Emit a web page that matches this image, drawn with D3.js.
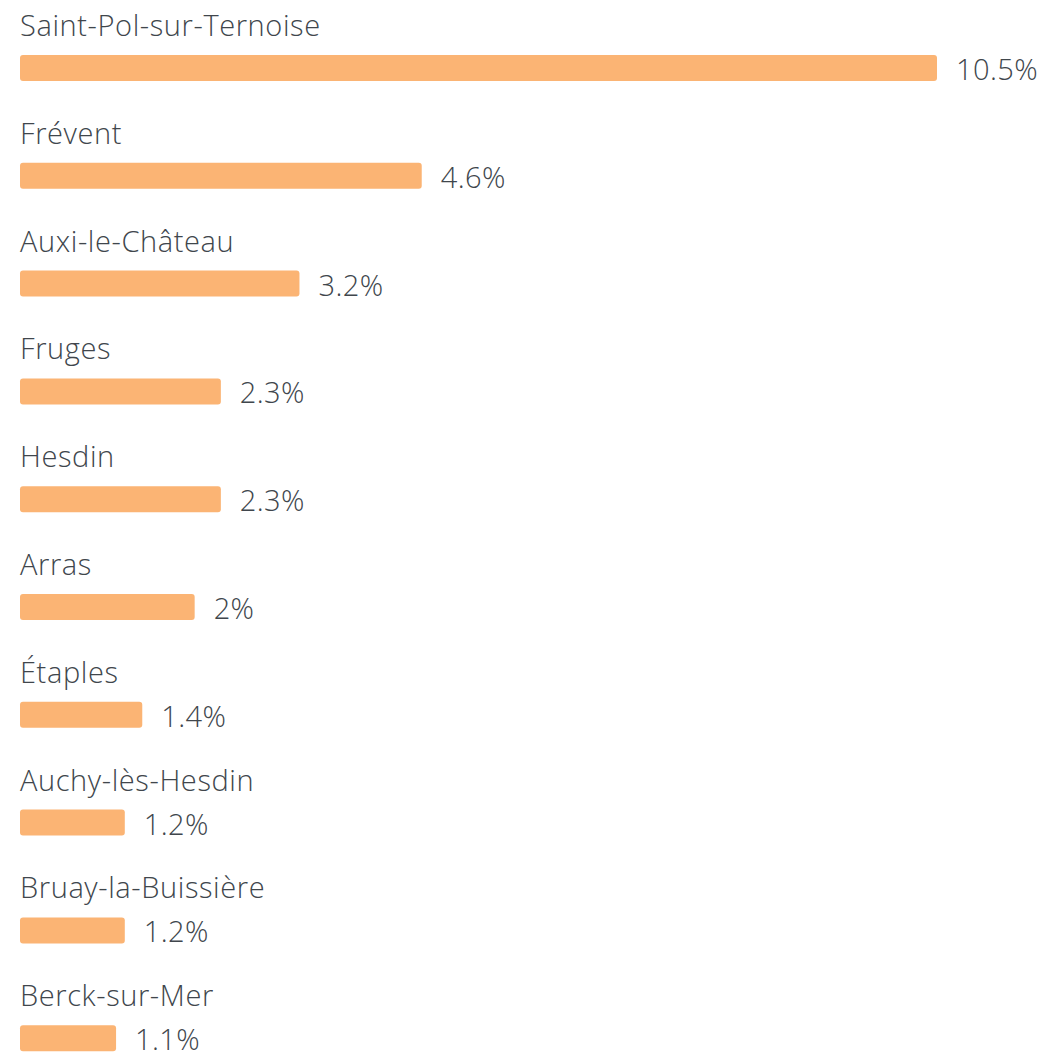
<!DOCTYPE html>
<html>
<head>
<meta charset="utf-8">
<script src="https://cdn.jsdelivr.net/npm/d3@7"></script>
<style>
  body { margin: 0; background: #fff; }
</style>
</head>
<body>
<div id="chart"></div>
<script>
// communes and share of ... (in %)
var communes = ["Saint-Pol-sur-Ternoise", "Frévent", "Auxi-le-Château", "Fruges", "Hesdin",
    "Arras", "Étaples", "Auchy-lès-Hesdin", "Bruay-la-Buissière", "Berck-sur-Mer"];
var values = [10.5, 4.6, 3.2, 2.3, 2.3, 2, 1.4, 1.2, 1.2, 1.1];
var valueLabels = ["10.5%", "4.6%", "3.2%", "2.3%", "2.3%", "2%", "1.4%", "1.2%", "1.2%", "1.1%"];

var width = 1045;
var height = 1054;
var margin = {top: 55, left: 20};
var barHeight = 26;

var data = communes.map(function(c, i) {
    return {name: c, value: values[i], label: valueLabels[i]};
});

var x = d3.scaleLinear()
    .domain([0, 10.5])
    .range([0, 917]);

var y = d3.scaleBand()
    .domain(communes)
    .range([0, 1078]);

var svg = d3.select("#chart").append("svg")
    .attr("width", width)
    .attr("height", height);

var g = svg.append("g")
    .attr("transform", "translate(" + margin.left + "," + margin.top + ")");

var row = g.selectAll("g.row")
    .data(data)
    .join("g")
    .attr("class", "row")
    .attr("transform", function(d) { return "translate(0," + y(d.name) + ")"; });

row.append("rect")
    .attr("x", 0)
    .attr("y", 0)
    .attr("width", function(d) { return x(d.value); })
    .attr("height", barHeight)
    .attr("rx", 3)
    .style("fill", "#fbb474");

row.append("text")
    .attr("x", 0)
    .attr("y", -19)
    .text(function(d) { return d.name; })
    .style("font-family", "'Segoe UI', 'Open Sans', sans-serif")
    .style("font-weight", 300)
    .style("font-size", "29px")
    .style("letter-spacing", "0.6px")
    .style("fill", "#40464c");

row.append("text")
    .attr("x", function(d) { return x(d.value) + 19; })
    .attr("y", 25)
    .text(function(d) { return d.label; })
    .style("font-family", "'Segoe UI', 'Open Sans', sans-serif")
    .style("font-weight", 300)
    .style("font-size", "29px")
    .style("letter-spacing", "0.4px")
    .style("fill", "#40464c");
</script>
</body>
</html>
